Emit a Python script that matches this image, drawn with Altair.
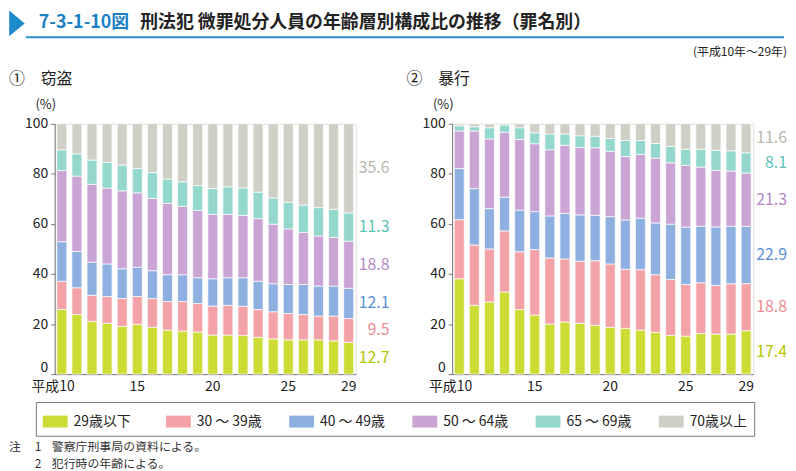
import altair as alt
import pandas as pd

FONT = "Noto Sans CJK JP"

years = list(range(10, 30))
age_groups = ["29歳以下", "30 ～ 39歳", "40 ～ 49歳", "50 ～ 64歳", "65 ～ 69歳", "70歳以上"]
bar_colors = ["#cddb35", "#f3a3a8", "#8eb0e1", "#c9a4d4", "#93d7cd", "#cfd0c5"]
label_colors = ["#b3c600", "#ee8a91", "#5b8fd5", "#b487c6", "#5cc3b6", "#b7b8ac"]

# ① 窃盗 (percent by age group, 平成10..29)
theft_29 = [25.8, 23.8, 21.1, 20.3, 19.1, 19.9, 18.7, 17.6, 17.2, 16.8, 15.6, 15.6, 15.4, 14.7, 14.1, 13.7, 13.7, 13.7, 13.3, 12.7]
theft_30 = [11.3, 10.7, 10.4, 10.7, 11.1, 11.1, 11.5, 11.4, 11.8, 11.4, 11.6, 11.9, 11.7, 11.1, 10.8, 10.5, 10.1, 9.5, 9.9, 9.5]
theft_40 = [15.8, 14.5, 13.2, 13.0, 11.9, 11.7, 11.1, 10.7, 10.7, 10.3, 10.9, 11.0, 11.4, 11.3, 11.2, 11.6, 12.0, 12.0, 12.0, 12.1]
theft_50 = [28.4, 30.1, 31.1, 30.3, 31.1, 29.7, 28.9, 28.5, 27.3, 26.9, 25.7, 25.3, 24.9, 25.0, 23.8, 22.2, 20.8, 20.0, 19.4, 18.8]
theft_65 = [8.3, 8.9, 9.7, 10.3, 10.3, 9.7, 10.3, 9.7, 9.8, 9.9, 10.3, 11.0, 11.0, 10.6, 10.5, 10.7, 10.9, 11.3, 11.2, 11.3]
theft_70 = [10.4, 12.0, 14.5, 15.4, 16.5, 17.9, 19.5, 22.1, 23.2, 24.7, 25.9, 25.2, 25.6, 27.3, 29.6, 31.3, 32.5, 33.5, 34.2, 35.6]

# ② 暴行
assault_29 = [38.1, 27.5, 28.8, 32.8, 25.8, 23.6, 20.0, 20.8, 20.3, 19.5, 18.7, 18.3, 17.6, 16.7, 15.5, 15.2, 16.2, 16.0, 16.0, 17.4]
assault_30 = [23.6, 24.1, 21.2, 24.4, 23.1, 26.1, 26.4, 25.2, 24.8, 25.8, 25.3, 23.6, 24.1, 23.0, 22.3, 20.6, 20.3, 19.4, 20.1, 18.8]
assault_40 = [20.4, 22.5, 16.1, 13.5, 16.6, 15.2, 16.8, 18.2, 18.5, 18.1, 18.9, 19.7, 20.6, 20.7, 22.1, 22.9, 22.6, 23.4, 23.0, 22.9]
assault_50 = [15.0, 23.0, 27.8, 25.9, 28.2, 27.1, 26.4, 27.2, 26.9, 27.0, 26.1, 25.3, 25.4, 25.9, 24.5, 24.7, 23.6, 22.6, 22.0, 21.3]
assault_65 = [2.1, 1.7, 4.5, 2.9, 4.7, 4.4, 6.3, 4.5, 4.7, 4.6, 5.1, 6.4, 5.6, 5.8, 6.6, 6.4, 7.1, 8.0, 8.1, 8.1]
assault_70 = [0.8, 1.2, 1.6, 0.5, 1.6, 3.6, 4.1, 4.1, 4.8, 5.0, 5.9, 6.7, 6.7, 7.9, 9.0, 10.2, 10.2, 10.6, 10.8, 11.6]

theft = [theft_29, theft_30, theft_40, theft_50, theft_65, theft_70]
assault = [assault_29, assault_30, assault_40, assault_50, assault_65, assault_70]

PLOT_W, PLOT_H = 303, 252


def one(text):
    return pd.DataFrame({"t": [text]})


def txt(text, x, y, size=14, color="#222", weight="normal", align="left", baseline="middle"):
    return alt.Chart(one(text)).mark_text(
        font=FONT, fontSize=size, color=color, fontWeight=weight,
        align=align, baseline=baseline
    ).encode(text="t:N", x=alt.value(x), y=alt.value(y))


def panel(series, heading, extra):
    rows = []
    for gi, vals in enumerate(series):
        for yr, v in zip(years, vals):
            rows.append({"year": yr, "age": age_groups[gi], "idx": gi, "value": v})
    df = pd.DataFrame(rows)

    last = [vals[-1] for vals in series]
    tot = sum(last)
    cum = 0.0
    labs = []
    for gi, v in enumerate(last):
        labs.append({"mid": (cum + v / 2) / tot, "lab": f"{v:.1f}", "col": label_colors[gi]})
        cum += v
    dl = pd.DataFrame(labs)

    bars = alt.Chart(df).mark_bar(stroke="white", strokeWidth=0.7).encode(
        x=alt.X("year:O",
                scale=alt.Scale(paddingInner=0.34, paddingOuter=0.14),
                axis=alt.Axis(
                    title=None, labelAngle=0, ticks=False, domainColor="#777",
                    labelFontSize=14, labelColor="#222", labelPadding=5, labelFont=FONT,
                    labelExpr="datum.value == 10 ? '平成10' : ((datum.value % 5 == 0 || datum.value == 29) ? '' + datum.value : '')",
                    labelAlign={"condition": {"test": "datum.value == 10", "value": "right"}, "value": "center"},
                    labelOffset={"condition": {"test": "datum.value == 10", "value": 13}, "value": 0},
                )),
        y=alt.Y("value:Q", stack="normalize",
                scale=alt.Scale(domain=[0, 1]),
                axis=alt.Axis(
                    title=None, values=[0, 0.2, 0.4, 0.6, 0.8, 1], grid=False,
                    labelExpr="round(datum.value * 100)", domainColor="#777", tickColor="#777",
                    tickSize=4, labelFontSize=14, labelColor="#222", labelPadding=3, labelFont=FONT,
                    labelOffset={"condition": {"test": "datum.value == 0", "value": -7}, "value": 0},
                )),
        color=alt.Color("age:N", scale=alt.Scale(domain=age_groups, range=bar_colors),
                        legend=alt.Legend(
                            title=None, orient="none", legendX=-19, legendY=280,
                            direction="horizontal", columns=6, gridAlign="all",
                            symbolType="M-1,-0.48H1V0.48H-1Z", symbolSize=625,
                            symbolStrokeWidth=0, symbolOpacity=1, labelFontSize=14,
                            labelFont=FONT, labelColor="#222", labelOffset=6,
                            columnPadding=27, padding=7, strokeColor="#777",
                        )),
        order=alt.Order("idx:Q", sort="ascending"),
    )

    values = alt.Chart(dl).mark_text(font=FONT, fontSize=16, align="right", baseline="middle").encode(
        x=alt.value(337),
        y=alt.Y("mid:Q", title=None),
        text="lab:N",
        fill=alt.Fill("col:N", scale=None),
    )

    deco = [
        txt(heading, -46, -45, size=16, color="#222"),
        txt("(%)", -9, -19, size=13, color="#222", align="center"),
    ]
    return alt.layer(bars, values, *deco, *extra).properties(width=PLOT_W, height=PLOT_H)


header = [
    alt.Chart(one("tri")).mark_point(
        shape="M-0.6,-1L0.6,0L-0.6,1Z", filled=True, size=676, opacity=1, color="#1b8bcc"
    ).encode(x=alt.value(-38), y=alt.value(-101)),
    alt.Chart(one("line")).mark_rule(color="#2a8ccc", strokeWidth=2).encode(
        x=alt.value(-29), x2=alt.value(734), y=alt.value(-87)),
    txt("7-3-1-10図", -16, -101, size=18, color="#1a7fc4", weight="bold"),
    txt("刑法犯 微罪処分人員の年齢層別構成比の推移（罪名別）", 86, -101, size=18, color="#222", weight="bold"),
    txt("注", -46, 325, size=12, color="#333"),
    txt("1", -20, 325, size=12, color="#333"),
    txt("警察庁刑事局の資料による。", -3, 325, size=12, color="#333"),
    txt("2", -20, 342, size=12, color="#333"),
    txt("犯行時の年齢による。", -3, 342, size=12, color="#333"),
]

left = panel(theft, "①　窃盗", header)
right = panel(assault, "②　暴行", [txt("(平成10年～29年)", 337, -72, size=12, color="#222", align="right")])

chart = alt.hconcat(left, right, spacing=97, bounds="flush").resolve_scale(
    color="shared"
).properties(padding=0).configure_view(strokeWidth=0).configure(font=FONT)

chart.save("out.html", embed_options={"renderer": "svg", "actions": False})
